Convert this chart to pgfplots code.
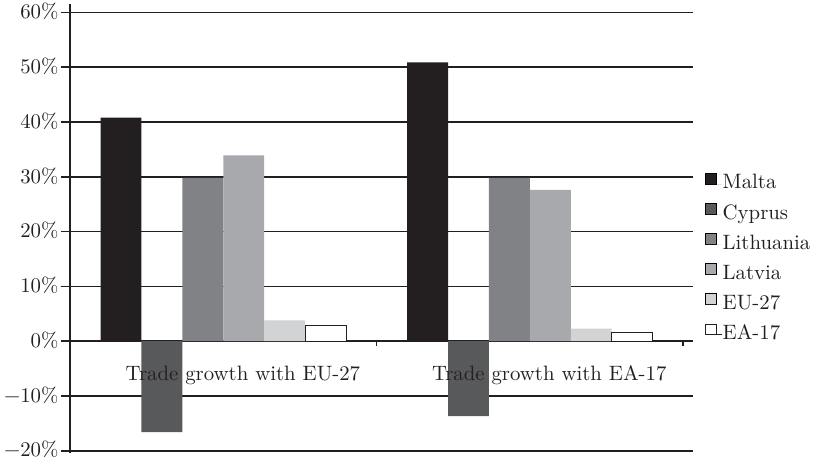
\documentclass[border=0pt]{standalone}
\usepackage{fontspec}
\setmainfont{lmroman10-regular}[Extension=.otf]
\usepackage{pgfplots}
\pgfplotsset{compat=1.18}

\definecolor{cMalta}{HTML}{231F20}
\definecolor{cCyprus}{HTML}{58595B}
\definecolor{cLithuania}{HTML}{808285}
\definecolor{cLatvia}{HTML}{A7A9AC}
\definecolor{cEU}{HTML}{D1D3D4}
\definecolor{ink}{HTML}{231F20}

\newcommand{\chartfont}{\fontsize{20.8}{25}\selectfont}

\begin{document}
\begin{tikzpicture}
\useasboundingbox (-70pt,-8.3pt) rectangle (743pt,450.7pt);
\begin{axis}[
  at={(0,0)}, anchor=south west,
  scale only axis, width=623pt, height=438.2pt,
  xmin=-0.5, xmax=1.532,
  ymin=-20, ymax=60,
  ybar=0pt, bar width=40.9pt,
  axis x line=none,
  axis y line*=left,
  y axis line style={-, draw=none},
  ytick={-20,-10,...,60},
  yticklabels={−20\%,−10\%,0\%,10\%,20\%,30\%,40\%,50\%,60\%},
  ymajorgrids,
  grid style={ink, line width=1.6pt},
  tick align=outside,
  major tick length=9pt,
  tick style={ink, line width=1.6pt},
  yticklabel style={font=\chartfont, text=ink, xshift=1pt, yshift=1.6pt, inner ysep=0pt, text depth=0pt},
  clip=false,
  legend style={
    draw=none, fill=none, inner sep=0pt,
    at={(1,0.437)}, anchor=west, xshift=12pt,
    font=\chartfont, text=ink,
    row sep=8.2pt,
    nodes={inner sep=0pt, text height=15pt, text depth=6pt},
  },
  legend cell align=left,
  legend image code/.code={%
    \draw[#1, line width=0.8pt] (0pt,0.5pt) rectangle (10.5pt,11pt);
    \path (0pt,0pt) -- (16.5pt,0pt);
  },
]
% growth rates in %, first: with EU-27, second: with EA-17
\addplot[fill=cMalta, draw=none]     coordinates {(0,40.8) (1,50.9)};
\addplot[fill=cCyprus, draw=none]    coordinates {(0,-16.6) (1,-13.7)};
\addplot[fill=cLithuania, draw=none] coordinates {(0,29.8) (1,29.8)};
\addplot[fill=cLatvia, draw=none]    coordinates {(0,33.9) (1,27.6)};
\addplot[fill=cEU, draw=none]        coordinates {(0,3.8) (1,2.3)};
\addplot[fill=white, draw=ink, line width=1pt] coordinates {(0,2.9) (1,1.5)};
\legend{Malta,Cyprus,Lithuania,Latvia,EU-27,EA-17}

% vertical axis line, slightly longer than the grid
\draw[ink, line width=1.6pt] (axis cs:-0.5,61.55) -- (axis cs:-0.5,-20.4);
% small category separators below the zero line
\draw[ink, line width=1.8pt] (axis cs:0.5,0) -- ++(0pt,-5pt);
\draw[ink, line width=1.8pt] (axis cs:1.5,0) -- ++(0pt,-5pt);

% category names
\node[font=\chartfont, text=ink, anchor=base, inner sep=0pt] at (axis cs:0.064,-7.1) {Trade growth with EU-27};
\node[font=\chartfont, text=ink, anchor=base, inner sep=0pt] at (axis cs:1.063,-7.1) {Trade growth with EA-17};
\end{axis}
\end{tikzpicture}
\end{document}
